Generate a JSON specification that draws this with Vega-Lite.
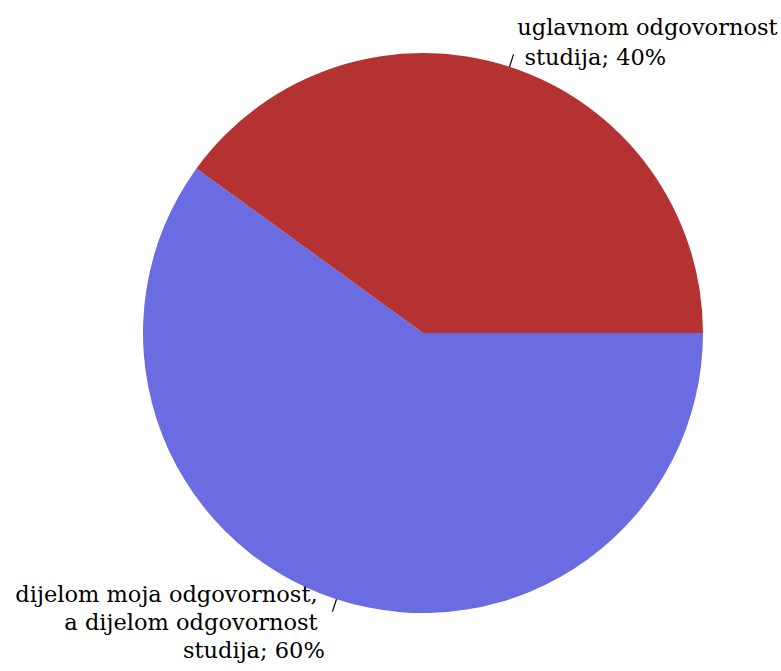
{
  "$schema": "https://vega.github.io/schema/vega-lite/v6.json",
  "autosize": {"type": "none"},
  "width": 716,
  "height": 666,
  "padding": {"left": 65, "top": 0, "right": 0, "bottom": 5},
  "background": "white",
  "config": {"view": {"stroke": null}},
  "data": {
    "values": [
      {"label": "dijelom moja odgovornost, a dijelom odgovornost studija", "value": 60, "idx": 1, "lines": ["dijelom moja odgovornost,\u00a0\u200b", "a dijelom odgovornost\u00a0\u200b", "studija; 60%"]},
      {"label": "uglavnom odgovornost studija", "value": 40, "idx": 2, "lines": ["uglavnom odgovornost", "\u200b\u00a0studija; 40%"]}
    ]
  },
  "transform": [
    {"stack": "value", "groupby": [], "sort": [{"field": "idx"}], "as": ["s0", "s1"]},
    {"calculate": "(datum.s0 + datum.s1) / 2", "as": "mid"}
  ],
  "layer": [
    {
      "mark": {"type": "arc", "outerRadius": 280},
      "encoding": {
        "theta": {"field": "s0", "type": "quantitative", "stack": null, "scale": {"domain": [0, 100], "range": [1.5708, 7.854]}},
        "theta2": {"field": "s1"},
        "color": {
          "field": "label",
          "type": "nominal",
          "scale": {"domain": ["dijelom moja odgovornost, a dijelom odgovornost studija", "uglavnom odgovornost studija"], "range": ["#6c6ce2", "#b43232"]},
          "legend": null
        }
      }
    },
    {
      "mark": {"type": "arc", "radius": 293, "radius2": 280, "stroke": "black", "strokeWidth": 1.2, "fill": null},
      "encoding": {
        "theta": {"field": "mid", "type": "quantitative", "stack": null},
        "theta2": {"field": "mid"}
      }
    },
    {
      "transform": [{"filter": "datum.idx == 2"}],
      "mark": {"type": "text", "radius": 292, "align": "left", "baseline": "alphabetic", "dx": 4, "dy": -20, "font": "DejaVu Serif", "fontSize": 22.5, "lineHeight": 30, "color": "black"},
      "encoding": {
        "theta": {"field": "mid", "type": "quantitative", "stack": null},
        "text": {"field": "lines"}
      }
    },
    {
      "transform": [{"filter": "datum.idx == 1"}],
      "mark": {"type": "text", "radius": 292, "align": "right", "baseline": "alphabetic", "dx": -8, "dy": -9, "font": "DejaVu Serif", "fontSize": 22.5, "lineHeight": 28, "color": "black"},
      "encoding": {
        "theta": {"field": "mid", "type": "quantitative", "stack": null},
        "text": {"field": "lines"}
      }
    }
  ]
}
